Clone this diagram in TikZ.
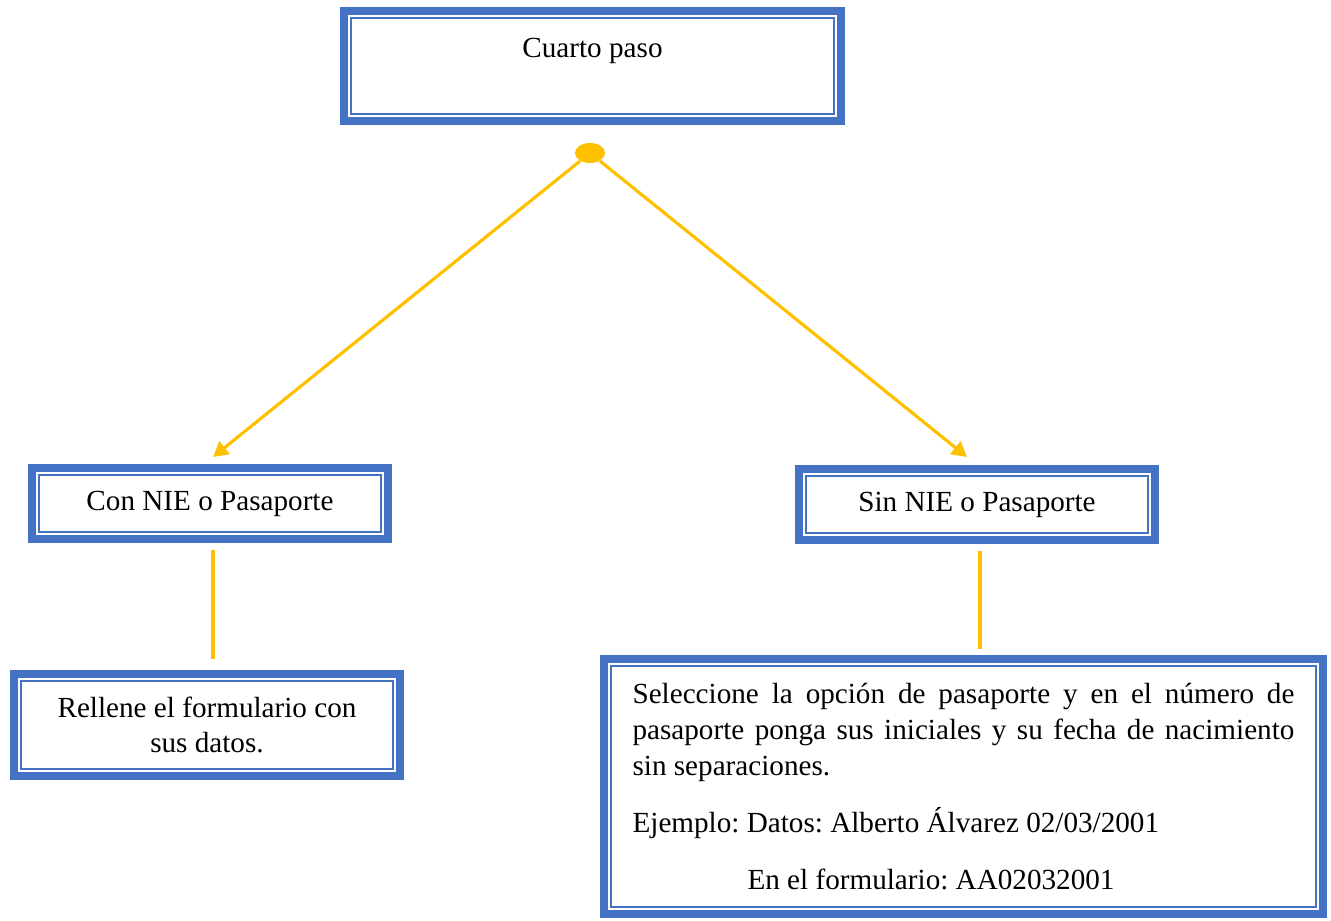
\documentclass[tikz,border=0pt]{standalone}
\usepackage{fontspec}
\setmainfont{Liberation Serif}
\usetikzlibrary{shapes.geometric}
\usetikzlibrary{arrows.meta}

\definecolor{boxblue}{HTML}{4472C4}
\definecolor{lineyellow}{HTML}{FFC000}

\hyphenpenalty=10000
\exhyphenpenalty=10000
\frenchspacing

\begin{document}
\begin{tikzpicture}[x=0.02cm, y=-0.02cm, line join=miter]

    % page frame, in pixels of the reference
    \useasboundingbox (0,0) rectangle (1331,920);

    \tikzset{%
      framed_box/.style  = {draw=boxblue, line width=4.5pt, fill=white,
                            inner sep=0pt, align=center,
                            font=\fontsize{16.6}{20.4}\selectfont,
                            path picture={
                              \draw[boxblue, line width=1.1pt]
                                ([shift={(0.14cm,0.14cm)}]path picture bounding box.south west)
                                rectangle
                                ([shift={(-0.14cm,-0.14cm)}]path picture bounding box.north east);
                            }},
      yellow_line/.style = {draw=lineyellow, line width=1.8pt},
      yellow_arrow/.style = {yellow_line, -{Triangle[length=0.3cm, width=0.32cm]}}
    }

    \node[framed_box, minimum width=9.94cm, minimum height=2.2cm]
      (step) at (592.5,66) {Cuarto paso\\ \mbox{}};

    \node[framed_box, minimum width=7.12cm, minimum height=1.42cm]
      (con) at (210,503.5) {Con NIE o Pasaporte};
    \node[framed_box, minimum width=7.12cm, minimum height=1.42cm]
      (sin) at (977,504.5) {Sin NIE o Pasaporte};

    \node[framed_box, minimum width=7.72cm, minimum height=2.04cm]
      (rellene) at (207,725) {Rellene el formulario con\\sus datos.};

    \node[framed_box, minimum width=14.38cm, minimum height=5.1cm,
          text width=13.24cm, align=justify]
      (detalle) at (963.5,786.5) {%
        Seleccione la opción de pasaporte y en el número de pasaporte ponga
        sus iniciales y su fecha de nacimiento sin separaciones.\\[11.9pt]
        Ejemplo: Datos: Alberto Álvarez 02/03/2001\\[11.9pt]
        \hspace*{2.3cm}En el formulario: AA02032001};

    % split point and arrow ends
    \node[ellipse, fill=lineyellow, minimum width=0.6cm, minimum height=0.4cm,
          inner sep=0pt] (split) at (590,153) {};
    \coordinate (tipL) at (213,457);
    \coordinate (tipR) at (967,457);

    \draw[yellow_arrow] (split) -- (tipL);
    \draw[yellow_arrow] (split) -- (tipR);

    \foreach \from/\to/\gap in {con/rellene/0.22cm, sin/detalle/0.12cm}{
      \draw[yellow_line, shorten <=0.15cm, shorten >=\gap]
        ([xshift=0.06cm]\from.south) -- ([xshift=0.06cm]\from.south |- \to.north);
    }

\end{tikzpicture}
\end{document}
